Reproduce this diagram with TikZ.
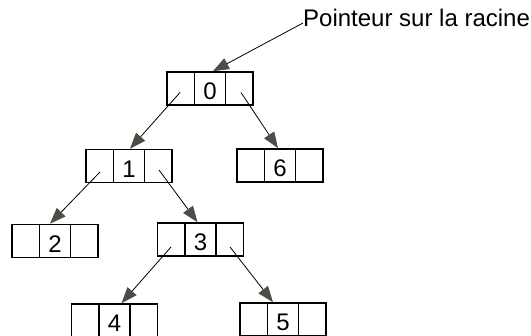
\documentclass[tikz,border=0pt]{standalone}
\usepackage{fontspec}
\setmainfont{Liberation Sans}
\usetikzlibrary{positioning,arrows.meta}
\definecolor{tipgray}{RGB}{78,77,69}
\tikzset{cell node/.style={rectangle, draw, line width=1.6pt, minimum width=86pt, minimum height=33pt, inner sep=0pt,
    font=\fontsize{24}{24}\selectfont, text height=23pt, text depth=0pt,
    path picture={\draw[line width=1.6pt]
      ([xshift=-15.5pt]path picture bounding box.north) -- ([xshift=-15.5pt]path picture bounding box.south)
      ([xshift=15.5pt]path picture bounding box.north) -- ([xshift=15.5pt]path picture bounding box.south);}},
  link/.style={draw, line width=0.8pt, -{Triangle[length=16pt,width=12pt,color=tipgray]}},}

\begin{document}
\begin{tikzpicture}[on grid]
        \useasboundingbox (0,0) rectangle (531pt,-336pt);
        % Nodes
        \node[cell node] (n0) at (210pt,-88.5pt) {0};
        \node[cell node] [below left = 77.5pt and 81pt of n0] (n1) {1};
        \node[cell node] [below right = 77pt and 70pt of n0] (n6) {6};
        \node[cell node] [below left = 75pt and 74pt of n1] (n2) {2};
        \node[cell node] [below right = 73.5pt and 71.5pt of n1] (n3) {3};
        \node[cell node] [below left = 81pt and 86pt of n3] (n4) {4};
        \node[cell node] [below right = 80pt and 82.5pt of n3] (n5) {5};
        \node[anchor=base west, inner sep=0pt, font=\fontsize{24}{24}\selectfont] (root) at (303pt,-27pt) {Pointeur sur la racine};
        % Paths
        \path
        ([yshift=4pt]root.base west) edge[link] ([xshift=3pt]n0.north)
        ([shift={(-30pt,-4pt)}]n0.center) edge[link] ([xshift=1pt]n1.north)
        ([shift={(31pt,-4pt)}]n0.center) edge[link] ([xshift=-2pt]n6.north)
        ([shift={(-29pt,-6pt)}]n1.center) edge[link] ([xshift=-5pt]n2.north)
        ([shift={(30pt,-4pt)}]n1.center) edge[link] ([xshift=-3pt]n3.north)
        ([shift={(-29.5pt,-7.5pt)}]n3.center) edge[link] ([xshift=7pt]n4.north)
        ([shift={(29.5pt,-7.5pt)}]n3.center) edge[link] ([xshift=-10pt]n5.north);
\end{tikzpicture}
\end{document}
